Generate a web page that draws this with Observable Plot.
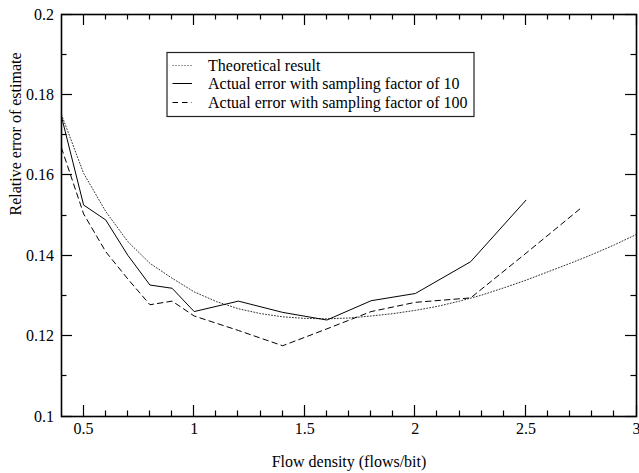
<!DOCTYPE html>
<html>
<head>
<meta charset="utf-8">
<script src="https://cdn.jsdelivr.net/npm/d3@7"></script>
<script src="https://cdn.jsdelivr.net/npm/@observablehq/plot@0.6"></script>
<style>
  html, body { margin: 0; padding: 0; background: #fff; }
  #chart { width: 639px; height: 473px; }
</style>
</head>
<body>
<div id="chart"></div>
<script>
// Theoretical relative error curve
const theoryX = [0.4, 0.5, 0.6, 0.7, 0.8, 0.9, 1.0, 1.1, 1.2, 1.3, 1.4, 1.5, 1.6, 1.7, 1.8, 1.9,
                 2.0, 2.1, 2.2, 2.3, 2.4, 2.5, 2.6, 2.7, 2.8, 2.9, 3.0];
const theoryY = [0.1751, 0.1605, 0.1510, 0.1435, 0.1381, 0.1344, 0.1310, 0.1286, 0.1268, 0.1256,
                 0.1248, 0.1244, 0.1243, 0.1245, 0.1250, 0.1256, 0.1264, 0.1274, 0.1287, 0.1302,
                 0.1320, 0.1339, 0.1360, 0.1381, 0.1403, 0.1427, 0.1453];

// Measured error, sampling factor 10
const sample10X = [0.4, 0.5, 0.6, 0.7, 0.8, 0.9, 1.0, 1.2, 1.4, 1.6, 1.8, 2.0, 2.25, 2.5];
const sample10Y = [0.1746, 0.1526, 0.1489, 0.1401, 0.1327, 0.1319, 0.1261, 0.1287, 0.1259,
                   0.1240, 0.1288, 0.1306, 0.1385, 0.1538];

// Measured error, sampling factor 100
const sample100X = [0.4, 0.5, 0.6, 0.7, 0.8, 0.9, 1.0, 1.2, 1.4, 1.6, 1.8, 2.0, 2.25, 2.5, 2.75];
const sample100Y = [0.1668, 0.1504, 0.1410, 0.1342, 0.1278, 0.1287, 0.1250, 0.1214, 0.1176,
                    0.1218, 0.1261, 0.1284, 0.1295, 0.1406, 0.1519];

const seriesNames = [
  "Theoretical result",
  "Actual error with sampling factor of 10",
  "Actual error with sampling factor of 100"
];

const xMajorTicks = [0.5, 1, 1.5, 2, 2.5, 3];
const xMinorTicks = [0.6, 0.7, 0.8, 0.9, 1.1, 1.2, 1.3, 1.4, 1.6, 1.7, 1.8, 1.9,
                     2.1, 2.2, 2.3, 2.4, 2.6, 2.7, 2.8, 2.9];
const yMajorTicks = [0.1, 0.12, 0.14, 0.16, 0.18, 0.2];
const yMinorTicks = [0.11, 0.13, 0.15, 0.17, 0.19];

const xLabel = "Flow density (flows/bit)";
const yLabel = "Relative error of estimate";

const rows = (xs, ys) => xs.map((x, i) => ({x, y: ys[i]}));

const FONT = "'Liberation Serif', 'Times New Roman', serif";
const W = 639, H = 473;
const M = {top: 14, right: 3, bottom: 57, left: 61};

// Line styles shared by the curves and the legend samples
const styles = [
  {stroke: "#333", strokeWidth: 1, strokeDasharray: "1,2"},
  {stroke: "#000", strokeWidth: 1, strokeDasharray: null},
  {stroke: "#000", strokeWidth: 1, strokeDasharray: "5.5,4"}
];

// Snap a position to a pixel centre so 1px ticks stay crisp
const crisp = v => Math.round(v - 0.5) + 0.5;

// Inward tick marks on all four sides of the frame, placed with the plot's scales
function innerTicks(index, scales, values, dimensions) {
  const {width, height, marginLeft, marginRight, marginTop, marginBottom} = dimensions;
  const left = marginLeft, right = width - marginRight;
  const top = marginTop, bottom = height - marginBottom;
  const g = d3.create("svg:g").attr("stroke", "#000").attr("stroke-width", 1.2);
  // vertical ticks along the bottom and top edges
  for (const [ticks, size] of [[xMajorTicks, 11], [xMinorTicks, 5.5]]) {
    for (const v of ticks) {
      const px = crisp(scales.x(v));
      g.append("line")
        .attr("x1", px).attr("x2", px)
        .attr("y1", bottom).attr("y2", bottom - size);
      g.append("line")
        .attr("x1", px).attr("x2", px)
        .attr("y1", top).attr("y2", top + size);
    }
  }
  // horizontal ticks along the left and right edges
  for (const [ticks, size] of [[yMajorTicks, 11], [yMinorTicks, 5.5]]) {
    for (const v of ticks) {
      const py = crisp(scales.y(v));
      g.append("line")
        .attr("y1", py).attr("y2", py)
        .attr("x1", left).attr("x2", left + size);
      g.append("line")
        .attr("y1", py).attr("y2", py)
        .attr("x1", right).attr("x2", right - size);
    }
  }
  return g.node();
}

// Boxed legend in the upper part of the frame
function legend(index, scales, values, dimensions) {
  const {marginLeft, marginTop} = dimensions;
  const bx = marginLeft + 106, by = marginTop + 38.5;
  const g = d3.create("svg:g")
    .attr("font-family", FONT)
    .attr("font-size", 16)
    .attr("text-anchor", "start")
    .attr("fill", "#000");
  g.append("rect")
    .attr("x", bx).attr("y", by)
    .attr("width", 307).attr("height", 64)
    .attr("fill", "#fff").attr("stroke", "#222").attr("stroke-width", 1.2);
  seriesNames.forEach((name, i) => {
    const cy = by + 12.5 + i * 18.5;
    const s = styles[i];
    g.append("line")
      .attr("x1", bx + 5.5).attr("x2", bx + 25)
      .attr("y1", crisp(cy)).attr("y2", crisp(cy))
      .attr("stroke", s.stroke).attr("stroke-width", s.strokeWidth)
      .attr("stroke-dasharray", s.strokeDasharray);
    g.append("text")
      .attr("x", bx + 41).attr("y", cy + 5.5)
      .attr("text-anchor", "start")
      .text(name);
  });
  return g.node();
}

const fmt = d => String(+d.toFixed(2));

const chart = Plot.plot({
  width: W,
  height: H,
  marginTop: M.top,
  marginRight: M.right,
  marginBottom: M.bottom,
  marginLeft: M.left,
  style: {fontFamily: FONT, fontSize: "16px", background: "#fff", color: "#000"},
  x: {domain: [0.4, 3.0]},
  y: {domain: [0.1, 0.2]},
  marks: [
    Plot.line(rows(theoryX, theoryY), {x: "x", y: "y", ...styles[0]}),
    Plot.line(rows(sample10X, sample10Y), {x: "x", y: "y", ...styles[1]}),
    Plot.line(rows(sample100X, sample100Y), {x: "x", y: "y", ...styles[2]}),
    Plot.axisX(xMajorTicks, {anchor: "bottom", tickSize: 0, tickPadding: 6, tickFormat: fmt, label: null, fontSize: 16}),
    Plot.axisY(yMajorTicks, {anchor: "left", tickSize: 0, tickPadding: 7.5, tickFormat: fmt, label: null, fontSize: 16}),
    Plot.frame({stroke: "#000", strokeWidth: 1.6}),
    Plot.text([xLabel], {frameAnchor: "bottom", dy: 45, lineAnchor: "middle", fontSize: 16, text: d => d}),
    Plot.text([yLabel], {frameAnchor: "left", dx: -46, rotate: -90, lineAnchor: "middle", fontSize: 16, text: d => d}),
    legend,
    innerTicks
  ]
});

document.getElementById("chart").append(chart);
</script>
</body>
</html>
